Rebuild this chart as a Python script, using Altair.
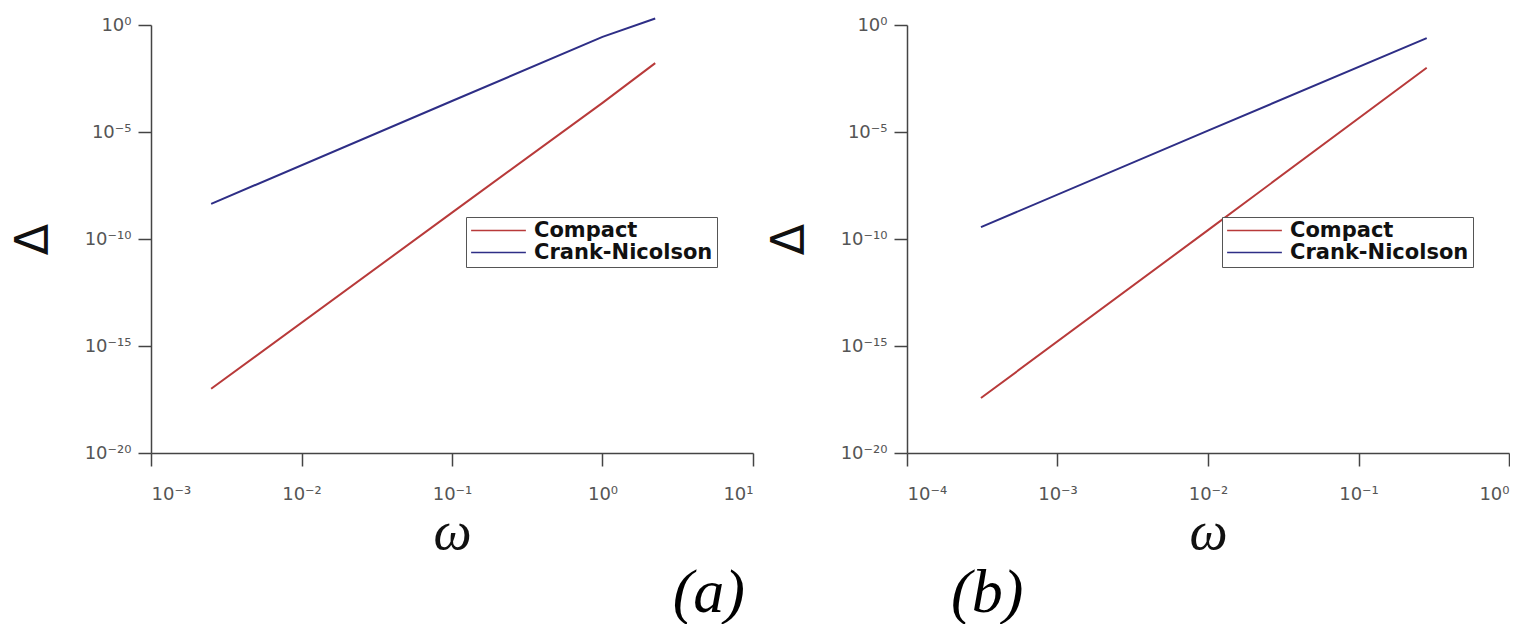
import altair as alt
import pandas as pd

# ---- data ----
methods = ["Compact", "Crank-Nicolson"]
colors = ["#b83a3a", "#2e2e86"]

a_omega = [0.00251, 0.1, 1.0, 2.24]
a_compact = [1.0e-17, 1.7e-9, 2.3e-4, 1.66e-2]
a_cn = [4.4e-9, 2.8e-4, 0.28, 2.0]

b_omega = [3.1e-4, 1.0e-2, 0.284]
b_compact = [3.7e-18, 2.6e-10, 1.0e-2]
b_cn = [3.6e-10, 1.15e-5, 0.245]

a_xticks = [-3, -2, -1, 0, 1]
b_xticks = [-4, -3, -2, -1, 0]
yticks = [-20, -15, -10, -5, 0]

SUP = str.maketrans("-0123456789", "⁻⁰¹²³⁴⁵⁶⁷⁸⁹")


def lab(e):
    return "10" + str(e).translate(SUP)


def label_expr(exps):
    arr = ",".join("'" + lab(e) + "'" for e in exps)
    lo = exps[0]
    step = exps[1] - exps[0]
    return f"[{arr}][round((round(log(datum.value)/LN10) - ({lo}))/{step})]"


def frame(omega, compact, cn):
    rows = []
    for w, d in zip(omega, compact):
        rows.append({"omega": w, "delta": d, "method": methods[0]})
    for w, d in zip(omega, cn):
        rows.append({"omega": w, "delta": d, "method": methods[1]})
    return pd.DataFrame(rows)


def panel(df, xticks, tag, anchor, dx):
    xvals = [10.0 ** e for e in xticks]
    yvals = [10.0 ** e for e in yticks]
    return (
        alt.Chart(df)
        .mark_line(strokeWidth=2)
        .encode(
            x=alt.X(
                "omega:Q",
                scale=alt.Scale(type="log", domain=[xvals[0], xvals[-1]]),
                axis=alt.Axis(
                    values=xvals,
                    labelExpr=label_expr(xticks),
                    labelPadding=19,
                    title="ω",
                    titleFont="Liberation Serif",
                    titleFontStyle="italic",
                    titleFontWeight="normal",
                    titleFontSize=54,
                    titleColor="#111",
                    titlePadding=2,
                ),
            ),
            y=alt.Y(
                "delta:Q",
                scale=alt.Scale(type="log", domain=[yvals[0], yvals[-1]]),
                axis=alt.Axis(
                    values=yvals,
                    labelExpr=label_expr(yticks),
                    labelPadding=7,
                    title="Δ",
                    titleFont="DejaVu Sans",
                    titleFontWeight="normal",
                    titleFontSize=46,
                    titleColor="#111",
                    titlePadding=27,
                ),
            ),
            color=alt.Color(
                "method:N",
                scale=alt.Scale(domain=methods, range=colors),
                legend=alt.Legend(
                    orient="none",
                    legendX=315,
                    legendY=192,
                    title=None,
                    symbolType="stroke",
                    symbolSize=3000,
                    symbolStrokeWidth=1.5,
                    clipHeight=19,
                    labelFont="DejaVu Sans",
                    labelFontWeight="bold",
                    labelFontSize=21,
                    labelLimit=0,
                    labelColor="#111",
                    labelOffset=7,
                    rowPadding=0,
                    padding=4,
                    strokeColor="#555",
                    fillColor="white",
                ),
            ),
            order="omega:Q",
        )
        .properties(
            width=602,
            height=428,
            title=alt.TitleParams(
                tag,
                orient="bottom",
                anchor=anchor,
                frame="group",
                dx=dx,
                offset=4,
                font="Liberation Serif",
                fontStyle="italic",
                fontWeight="normal",
                fontSize=62,
                color="#000",
            ),
        )
    )


left = panel(frame(a_omega, a_compact, a_cn), a_xticks, "(a)", "end", -8)
right = panel(frame(b_omega, b_compact, b_cn), b_xticks, "(b)", "start", 44)

chart = (
    alt.hconcat(left, right, spacing=12)
    .resolve_scale(color="independent")
    .configure(padding={"left": 10, "top": 14, "right": 0, "bottom": 0}, background="white")
    .configure_view(stroke=None)
    .configure_axis(
        grid=False,
        domainColor="#444",
        domainWidth=1.5,
        tickColor="#444",
        tickWidth=1.5,
        tickSize=13,
        labelFont="DejaVu Sans",
        labelFontSize=18,
        labelColor="#555",
    )
)

chart.save("out.html", embed_options={"renderer": "svg", "actions": False})
